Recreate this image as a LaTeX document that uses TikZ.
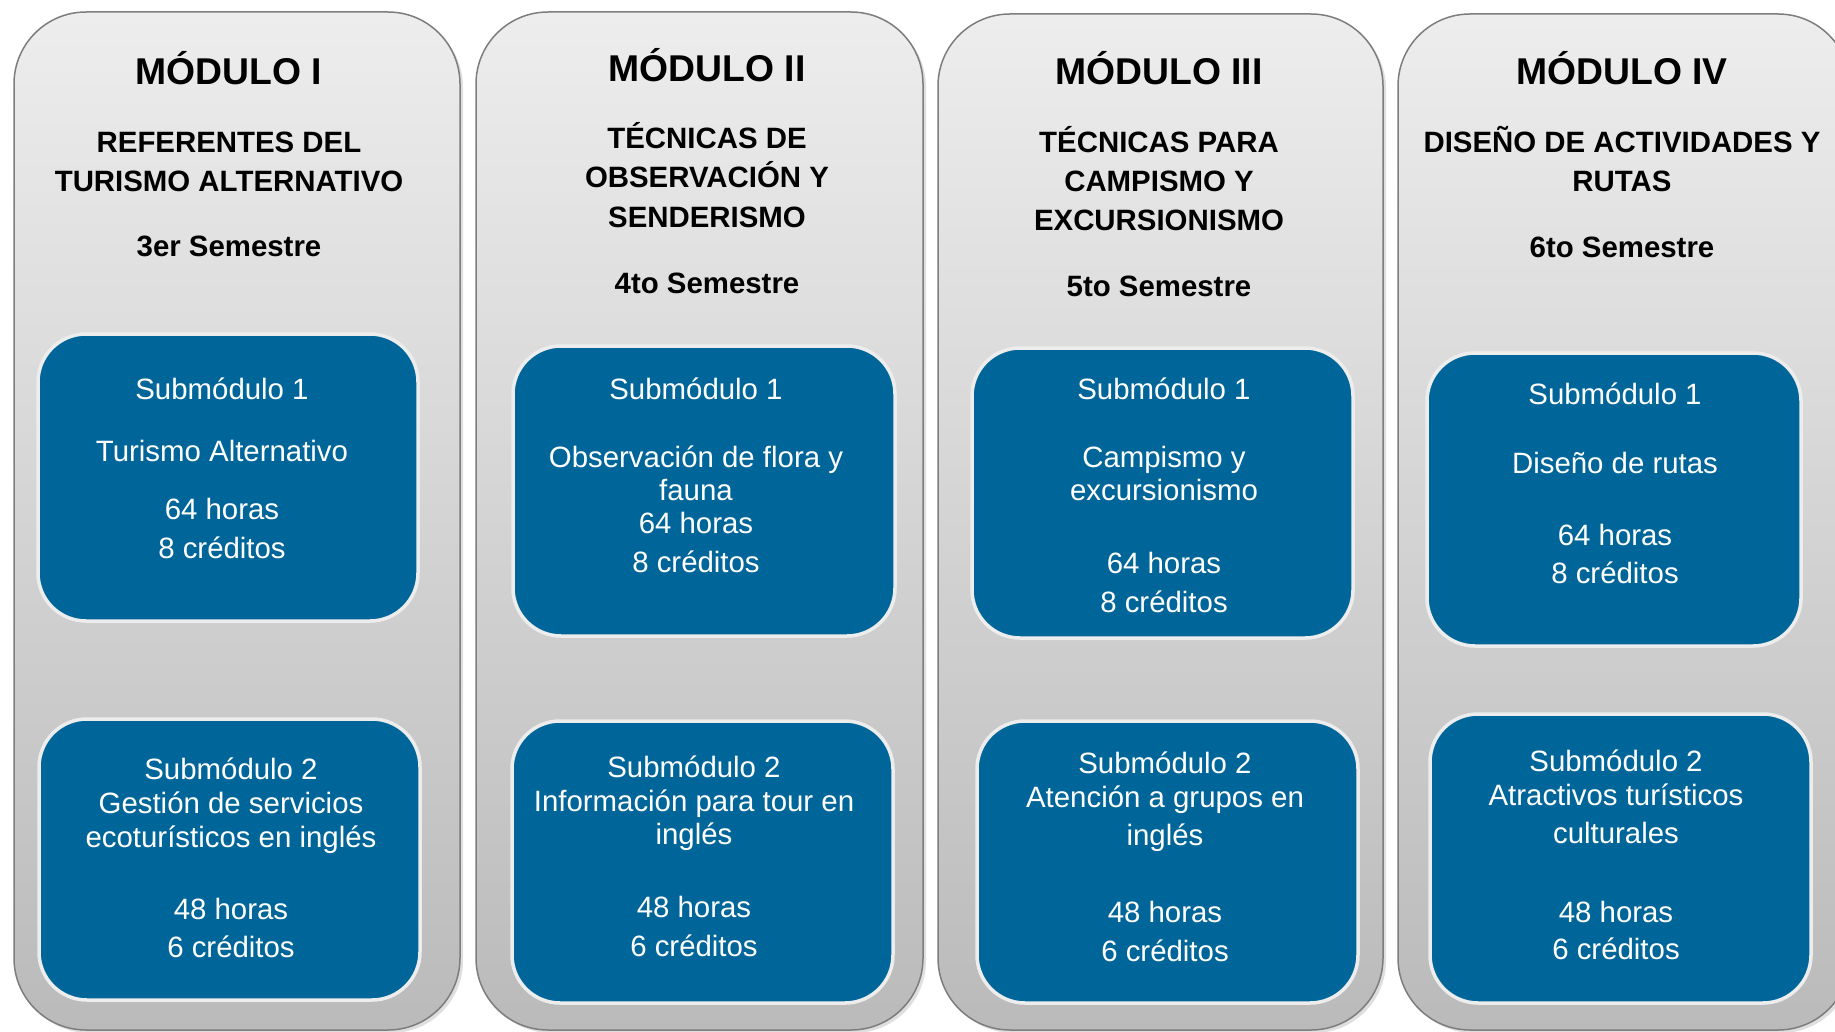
\documentclass[tikz,border=0pt]{standalone}
\usepackage{fontspec}
\setmainfont{Liberation Sans}
\usetikzlibrary{shadows}
\definecolor{subblue}{RGB}{0,102,154}
\definecolor{panelline}{RGB}{125,125,125}
\tikzset{
  panel/.style={draw=panelline, line width=1.5pt, rounded corners=72pt, top color=black!7, bottom color=black!27,
    drop shadow={opacity=.25, shadow xshift=3pt, shadow yshift=-3pt}},
  subbox/.style={draw=black!7, line width=3.5pt, fill=subblue, rounded corners=48pt},
  modtitle/.style={anchor=base, inner sep=0pt, font=\bfseries\fontsize{37.3}{44}\selectfont},
  modtext/.style={anchor=base, inner sep=0pt, font=\bfseries\fontsize{29.4}{35}\selectfont},
  subtext/.style={anchor=base, inner sep=0pt, text=white, font=\fontsize{29.4}{35}\selectfont}
}
\begin{document}
\begin{tikzpicture}[x=1pt, y=-1pt]
\useasboundingbox (0,0) rectangle (1835,1032);
% modules
\foreach \l/\t/\r in {14/12/460, 476/12/923, 938/14/1383, 1398/14/1850}
  \draw[panel] (\l,\t) rectangle (\r,1030);
% submodules
\foreach \l/\t/\r/\b in {38/334/418/621, 39/719/420/1000, 513/346/895/636, 512/721/893/1003,
    972/348/1353/638, 977/721/1358/1003, 1427/353/1801/646, 1430/714/1811/1003}
  \draw[subbox] (\l,\t) rectangle (\r,\b);

% module I
\node[modtitle] (m1) at (229,85) {MÓDULO I};
\foreach \y/\s [count=\i] in {153/REFERENTES DEL, 192/TURISMO ALTERNATIVO, 257/3er Semestre}
  \node[modtext] (m1-\i) at (229,\y) {\s};
\foreach \y/\s [count=\i] in {399/Submódulo 1, 461/Turismo Alternativo, 519/64 horas, 558/8 créditos}
  \node[subtext] (s11-\i) at (222,\y) {\s};
\foreach \y/\s [count=\i] in {779/Submódulo 2, 813/Gestión de servicios, 847/ecoturísticos en inglés, 919/48 horas, 957/6 créditos}
  \node[subtext] (s12-\i) at (231,\y) {\s};

% module II
\node[modtitle] (m2) at (707,82) {MÓDULO II};
\foreach \y/\s [count=\i] in {149/TÉCNICAS DE, 188/OBSERVACIÓN Y, 228/SENDERISMO, 293/4to Semestre}
  \node[modtext] (m2-\i) at (707,\y) {\s};
\foreach \y/\s [count=\i] in {399/Submódulo 1, 467/Observación de flora y, 500/fauna, 533/64 horas, 572/8 créditos}
  \node[subtext] (s21-\i) at (696,\y) {\s};
\foreach \y/\s [count=\i] in {777/Submódulo 2, 811/Información para tour en, 844/inglés, 917/48 horas, 956/6 créditos}
  \node[subtext] (s22-\i) at (694,\y) {\s};

% module III
\node[modtitle] (m3) at (1159,85) {MÓDULO III};
\foreach \y/\s [count=\i] in {153/TÉCNICAS PARA, 192/CAMPISMO Y, 231/EXCURSIONISMO, 296/5to Semestre}
  \node[modtext] (m3-\i) at (1159,\y) {\s};
\foreach \y/\s [count=\i] in {399/Submódulo 1, 467/Campismo y, 500/excursionismo, 573/64 horas, 612/8 créditos}
  \node[subtext] (s31-\i) at (1164,\y) {\s};
\foreach \y/\s [count=\i] in {773/Submódulo 2, 807/Atención a grupos en, 845/inglés, 922/48 horas, 961/6 créditos}
  \node[subtext] (s32-\i) at (1165,\y) {\s};

% module IV
\node[modtitle] (m4) at (1622,85) {MÓDULO IV};
\foreach \y/\s [count=\i] in {153/DISEÑO DE ACTIVIDADES Y, 192/RUTAS, 258/6to Semestre}
  \node[modtext] (m4-\i) at (1622,\y) {\s};
\foreach \y/\s [count=\i] in {404/Submódulo 1, 473/Diseño de rutas, 545/64 horas, 583/8 créditos}
  \node[subtext] (s41-\i) at (1615,\y) {\s};
\foreach \y/\s [count=\i] in {771/Submódulo 2, 805/Atractivos turísticos, 843/culturales, 922/48 horas, 959/6 créditos}
  \node[subtext] (s42-\i) at (1616,\y) {\s};
\end{tikzpicture}
\end{document}
